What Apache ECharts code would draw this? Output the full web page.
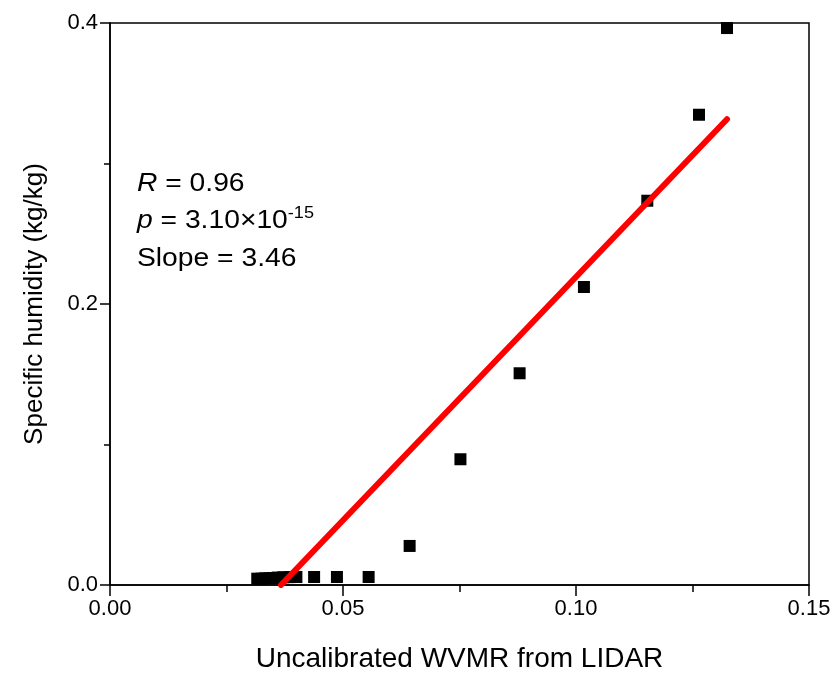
<!DOCTYPE html>
<html>
<head>
<meta charset="utf-8">
<script src="https://cdn.jsdelivr.net/npm/echarts@6/dist/echarts.min.js"></script>
<style>html,body{margin:0;padding:0;background:#fff;}#c{width:833px;height:673px;}</style>
</head>
<body>
<div id="c"></div>
<script>
// Data
var wvmr = [0.0316, 0.0325, 0.0333, 0.0342, 0.0350, 0.0360, 0.0372, 0.0385, 0.0400, 0.0438, 0.0487, 0.0555, 0.0643, 0.0752, 0.0879, 0.1017, 0.1153, 0.1264, 0.1324];
var humidity = [0.0045, 0.0045, 0.0047, 0.0048, 0.0050, 0.0053, 0.0055, 0.0056, 0.0057, 0.0057, 0.0057, 0.0057, 0.0278, 0.0895, 0.1507, 0.2121, 0.2735, 0.3347, 0.3964];
var fitX = [0.0367, 0.1324];
var fitY = [0.0, 0.3315];
var xTicks = ['0.00', '0.05', '0.10', '0.15'];
var yTicks = ['0.0', '0.2', '0.4'];
var xName = 'Uncalibrated WVMR from LIDAR';
var yName = 'Specific humidity (kg/kg)';

var pts = wvmr.map(function (x, i) { return [x, humidity[i]]; });
var fit = fitX.map(function (x, i) { return [x, fitY[i]]; });
var font = 'Liberation Sans, Arial, sans-serif';

var chart = echarts.init(document.getElementById('c'));
chart.setOption({
  animation: false,
  backgroundColor: '#fff',
  grid: { left: 110, right: 24, top: 23, bottom: 88, containLabel: false, outerBoundsMode: 'none',
    show: true, borderColor: '#000', borderWidth: 1.5, backgroundColor: 'transparent' },
  xAxis: {
    type: 'value', min: 0, max: 0.15, interval: 0.05,
    name: xName, nameLocation: 'middle', nameGap: 60,
    nameTextStyle: { fontFamily: font, fontSize: 28, color: '#000' },
    axisLine: { show: true, lineStyle: { color: '#000', width: 1.5 } },
    axisTick: { show: true, inside: false, length: 11, lineStyle: { color: '#000', width: 1.5 } },
    minorTick: { show: true, splitNumber: 2, length: 7, lineStyle: { color: '#000', width: 1.5 } },
    splitLine: { show: false },
    axisLabel: { fontFamily: font, fontSize: 22, color: '#000', margin: 13,
      formatter: function (v) { var i = Math.round(v / 0.05); return xTicks[i] !== undefined ? xTicks[i] : ''; } }
  },
  yAxis: {
    type: 'value', min: 0, max: 0.4, interval: 0.2,
    name: yName, nameLocation: 'middle', nameGap: 62,
    nameTextStyle: { fontFamily: font, fontSize: 26, color: '#000' },
    axisLine: { show: true, lineStyle: { color: '#000', width: 1.5 } },
    axisTick: { show: true, inside: false, length: 10, lineStyle: { color: '#000', width: 1.5 } },
    minorTick: { show: true, splitNumber: 2, length: 6, lineStyle: { color: '#000', width: 1.5 } },
    splitLine: { show: false },
    axisLabel: { fontFamily: font, fontSize: 22, color: '#000', margin: 12,
      formatter: function (v) { var i = Math.round(v / 0.2); return yTicks[i] !== undefined ? yTicks[i] : ''; } }
  },
  series: [
    {
      type: 'line', data: fit, symbol: 'none', z: 3,
      lineStyle: { color: '#ff0000', width: 6, cap: 'round' }
    },
    {
      type: 'scatter', data: pts, symbol: 'rect', symbolSize: 12, z: 2,
      itemStyle: { color: '#000', opacity: 1 }
    }
  ],
  graphic: [
    { type: 'text', x: 137, y: 184, scaleX: 1.13, style: { text: '{i|R} = 0.96', font: '25px ' + font, fill: '#000', verticalAlign: 'middle',
      rich: { i: { fontStyle: 'italic', fontSize: 25, fontFamily: font } } } },
    { type: 'text', x: 137, y: 221, scaleX: 1.13, style: { text: '{i|p} = 3.10×10{s|-15}', font: '25px ' + font, fill: '#000', verticalAlign: 'middle',
      rich: { i: { fontStyle: 'italic', fontSize: 25, fontFamily: font }, s: { fontSize: 16, fontFamily: font, verticalAlign: 'top', padding: [0, 0, 14, 0] } } } },
    { type: 'text', x: 137, y: 259, scaleX: 1.13, style: { text: 'Slope = 3.46', font: '25px ' + font, fill: '#000', verticalAlign: 'middle' } }
  ]
});
</script>
</body>
</html>
